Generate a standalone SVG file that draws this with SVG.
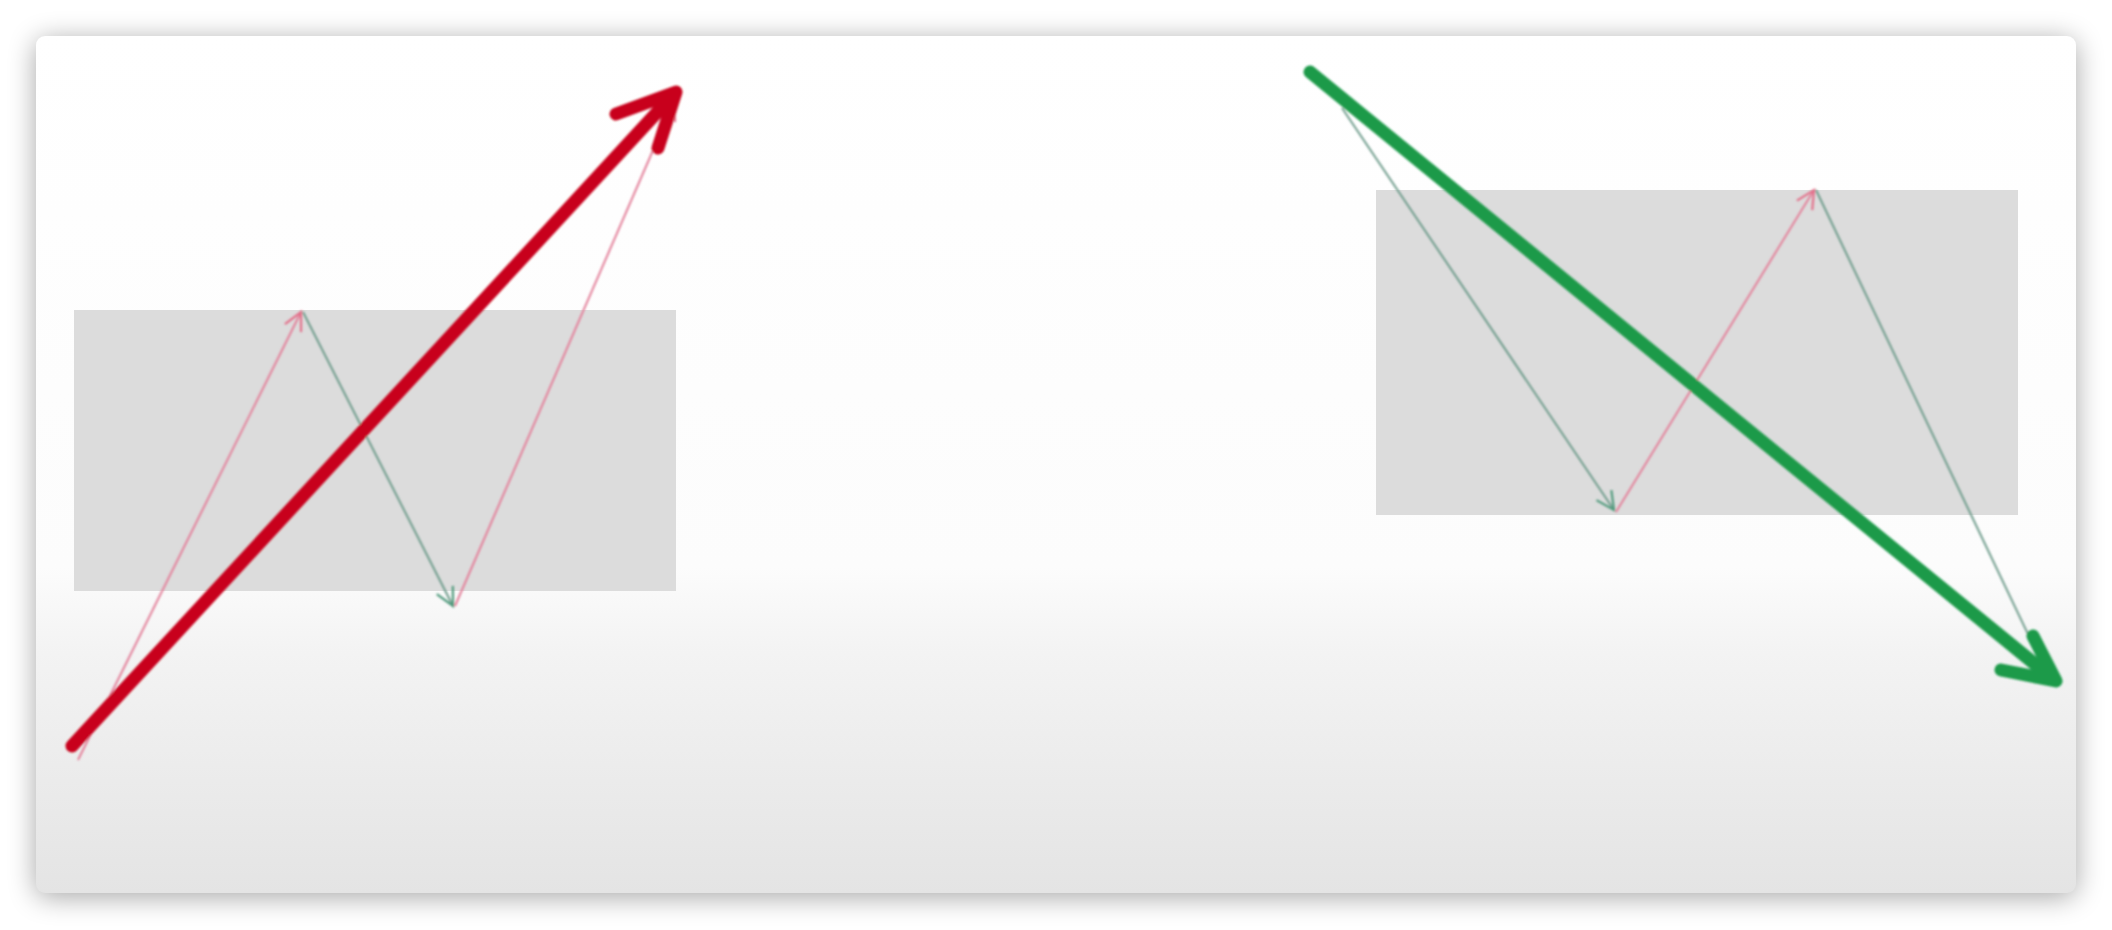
<svg xmlns="http://www.w3.org/2000/svg" width="2112" height="930" viewBox="0 0 2112 930">
<defs>
<filter id="sh" x="-10%" y="-10%" width="120%" height="120%"><feGaussianBlur stdDeviation="14"/></filter>
<filter id="soft" x="-5%" y="-5%" width="110%" height="110%"><feGaussianBlur stdDeviation="0.8"/></filter>
<linearGradient id="cardg" x1="0" y1="0" x2="0" y2="1">
<stop offset="0" stop-color="#ffffff"/>
<stop offset="0.62" stop-color="#fcfcfc"/>
<stop offset="0.72" stop-color="#f3f3f3"/>
<stop offset="1" stop-color="#e4e4e4"/>
</linearGradient>
<marker id="thinRed" markerWidth="30" markerHeight="30" refX="22" refY="12" orient="auto" markerUnits="userSpaceOnUse">
<path d="M4,3 L22,12 L4,21" fill="none" stroke="#e3708a" stroke-width="2.2"/>
</marker>
<marker id="thinGreen" markerWidth="30" markerHeight="30" refX="22" refY="12" orient="auto" markerUnits="userSpaceOnUse">
<path d="M4,3 L22,12 L4,21" fill="none" stroke="#4f9a7c" stroke-width="2.2"/>
</marker>
</defs>
<style>
.zone{fill:#dcdcdc}
.tr{stroke:#e3809a;stroke-width:2;fill:none;marker-end:url(#thinRed)}
.tg{stroke:#6f9c8c;stroke-width:2;fill:none;marker-end:url(#thinGreen)}
.bigR{stroke:#c8051c;stroke-width:13;fill:none;stroke-linecap:round;stroke-linejoin:round}
.bigG{stroke:#1a9a48;stroke-width:13;fill:none;stroke-linecap:round;stroke-linejoin:round}
</style>
<rect width="2112" height="930" fill="#ffffff"/>
<rect x="36" y="40" width="2040" height="857" rx="10" fill="#000" opacity="0.35" filter="url(#sh)"/>
<rect x="36" y="36" width="2040" height="857" rx="9" fill="url(#cardg)"/>
<g id="zone-left"><rect class="zone" x="74" y="310" width="602" height="281"/></g>
<g id="zone-right"><rect class="zone" x="1376" y="190" width="642" height="325"/></g>
<g id="connectors" filter="url(#soft)">
<line class="tr" x1="78" y1="760" x2="301" y2="312"/>
<line class="tg" x1="303" y1="312" x2="453" y2="606"/>
<line class="tr" x1="455" y1="606" x2="674" y2="102"/>
<line class="tg" x1="1342" y1="108" x2="1614" y2="510"/>
<line class="tr" x1="1616" y1="512" x2="1814" y2="190"/>
<line class="tg" x1="1816" y1="190" x2="2048" y2="676"/>
<g id="big-red">
<line class="bigR" x1="72" y1="746" x2="674" y2="94"/>
<path class="bigR" d="M616,114 L676,92 L658,148"/>
</g>
<g id="big-green">
<line class="bigG" x1="1310" y1="72" x2="2052" y2="678"/>
<path class="bigG" d="M2033,636 L2056,681 L2001,670"/>
</g>
</g>
</svg>
